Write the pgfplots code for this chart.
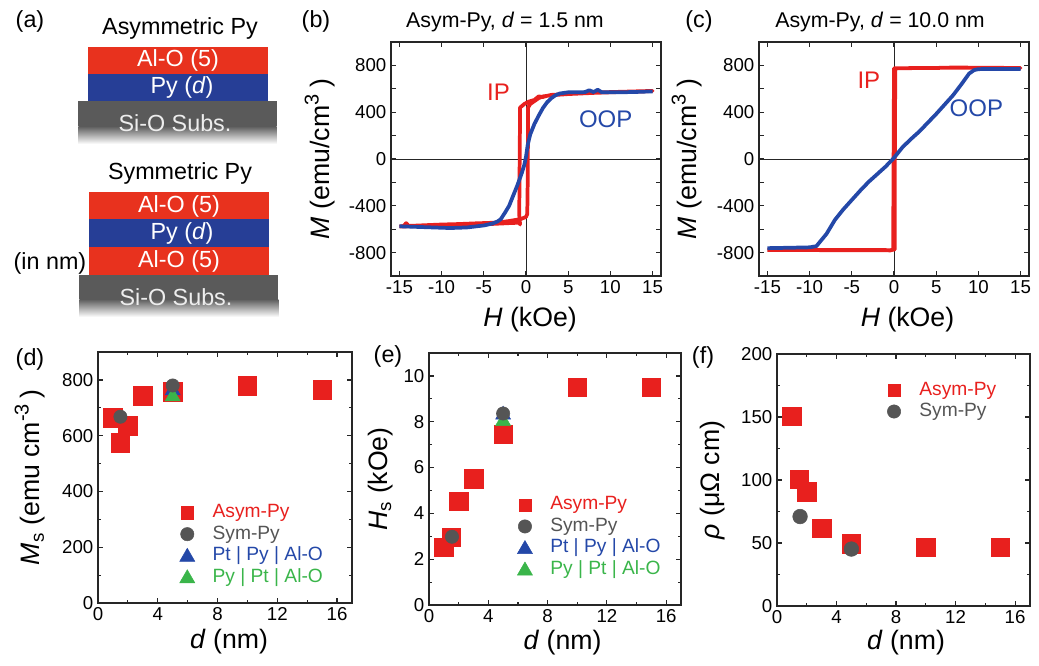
\documentclass[border=0pt]{standalone}
\usepackage{pgfplots}
\pgfplotsset{compat=1.18}
\usepackage{fontspec}
\setmainfont{Liberation Sans}
\definecolor{cred}{HTML}{E8201E}
\definecolor{cblue}{HTML}{2448A8}
\definecolor{cgray}{HTML}{555555}
\definecolor{cgreen}{HTML}{3AB54A}
\definecolor{lred}{HTML}{E8321E}
\definecolor{lblue}{HTML}{263E96}
\definecolor{subs}{HTML}{5A5A5A}
\newcommand{\fs}[1]{\fontsize{#1}{#1}\selectfont}
\newcommand{\supr}[1]{\raisebox{0.42em}{\fs{15}#1}}
\pgfplotsset{
  every axis/.append style={
    scale only axis,
    anchor=south west,
    axis line style={line width=1.1pt, black!85},
    tick align=inside,
    tick style={line width=0.9pt, black!85},
    major tick length=3.5pt,
    minor tick length=2pt,
    tick label style={font=\fs{14}},
    label style={font=\fs{20}},
    /pgf/number format/assume math mode=true,
  },
  leg/.style={legend cell align=left,
    legend style={draw=none, fill=none, inner sep=0pt, outer sep=0pt,
      font=\fs{14.4}, /tikz/column sep=12pt, /tikz/row sep=0.6pt,
      nodes={text height=10.5pt, text depth=3pt, inner sep=1pt}, anchor=north west}},
}
\newcommand{\legmark}[4]{\addlegendimage{legend image code/.code={\path[draw=none,fill=none] (-6pt,0) -- (6pt,0); \path[draw=none,fill=none] plot[mark=#2, mark size=#3, mark options={draw=#1, fill=#1}] coordinates {(0pt,#4)};}}}
\begin{document}
\begin{tikzpicture}
\path[use as bounding box] (0,0) rectangle (1039*0.75pt,-665*0.75pt);

% ---------------- panel (a)
\begin{scope}[x=0.75pt,y=-0.75pt]
 \node[font=\fs{17.5}] at (30,21) {(a)};
 \node[font=\fs{17.5}] at (180,28) {Asymmetric Py};
 \fill[lred] (87.7,47.3) rectangle (268.3,74);
 \fill[lblue] (87.7,74) rectangle (268.3,101);
 \fill[subs] (78.3,100.5) rectangle (276.7,126);
 \shade[top color=subs, bottom color=white] (78.3,126) rectangle (276.7,144);
 \node[white,font=\fs{17.5}] at (178,60.5) {Al-O (5)};
 \node[white,font=\fs{17.5}] at (182,87.5) {Py (\textit{d})};
 \node[white!93!black,font=\fs{17.5}] at (175,123) {Si-O Subs.};

 \node[font=\fs{17.5}] at (180,173) {Symmetric Py};
 \fill[lred] (89.3,192.3) rectangle (269,219);
 \fill[lblue] (89.3,219) rectangle (269,246.7);
 \fill[lred] (89.3,246.7) rectangle (269,275);
 \fill[subs] (79.3,275) rectangle (278.3,299);
 \shade[top color=subs, bottom color=white] (79.3,299) rectangle (278.3,317);
 \node[white,font=\fs{17.5}] at (179,206) {Al-O (5)};
 \node[white,font=\fs{17.5}] at (182,233) {Py (\textit{d})};
 \node[white,font=\fs{17.5}] at (179,261) {Al-O (5)};
 \node[white!93!black,font=\fs{17.5}] at (176,297) {Si-O Subs.};
 \node[font=\fs{17.5}] at (50,263) {(in nm)};

 \node[font=\fs{17.5}] at (316,21) {(b)};
 \node[font=\fs{17.5}] at (699,21) {(c)};
 \node[font=\fs{17.5}] at (30,359) {(d)};
 \node[font=\fs{17.5}] at (388,356) {(e)};
 \node[font=\fs{17.5}] at (703,357) {(f)};
 \node[font=\fs{16}] at (505,22) {Asym-Py, \textit{d} = 1.5 nm};
 \node[font=\fs{16}] at (880,22) {Asym-Py, \textit{d} = 10.0 nm};
\end{scope}

% ---------------- panel (b)
\begin{axis}[at={(391*0.75pt,-276*0.75pt)}, width=270*0.75pt, height=234*0.75pt,
  xmin=-16, xmax=16, ymin=-1000, ymax=1000,
  xtick={-15,-10,...,15}, ytick={-800,-400,...,800}, minor ytick={-600,-200,200,600},
  minor tick length=3.5pt,
  xlabel={\textit{H} (kOe)}, ylabel={\textit{M} (emu/cm\supr{3}\hspace{0.25em})},
  xlabel style={at={(rel axis cs:0.515,-0.188)}, anchor=center},
  ylabel style={at={(rel axis cs:-0.263,0.5)}, anchor=center}]
 \draw[black!85, line width=0.7pt] (axis cs:0,-1000) -- (axis cs:0,1000);
 \draw[black!85, line width=0.7pt] (axis cs:-16,0) -- (axis cs:16,0);
 \addplot[cred, line width=2.8pt, line join=round] coordinates {
 (-15,-578) (-14.5,-572) (-14.2,-548) (-13.9,-572) (-12,-566) (-10,-560) (-8,-556) (-6,-550)
 (-4,-545) (-3,-540) (-2,-530) (-1,-518) (-0.5,-510) (0,-495) (0.15,-470) (0.2,-200) (0.25,440)
 (0.5,470) (1,495) (1.5,520) (2,535) (3,545) (5,555) (8,565) (10,570) (12,575) (14,578) (15,582)
 (14,580) (12,576) (10,572) (8,568) (6,560) (4,552) (3,548) (2.5,540) (2,530) (1.5,535) (1,505)
 (0.3,490) (-0.2,470) (-0.7,440) (-0.75,0) (-0.8,-480) (-0.7,-560) (-0.9,-530) (-1,-545)
 (-2,-548) (-4,-555) (-6,-560) (-9,-565) (-12,-570) (-15,-578)};
 \addplot[cblue, line width=2.8pt, line join=round] coordinates {
 (-15,-575) (-13,-580) (-11,-585) (-9,-590) (-7,-585) (-5,-568) (-4,-552) (-3.4,-535)
 (-3,-515) (-2.5,-460) (-2,-400) (-1.5,-310) (-1,-220) (-0.5,-120) (-0.2,-50) (0,20) (0.2,120)
 (0.5,210) (1,300) (1.5,370) (2,435) (2.5,485) (3,520) (3.5,545) (4,560) (5,570) (6,570)
 (7,572) (7.5,588) (8,572) (8.5,592) (9,570) (11,570) (13,573) (15,578)};
 \node[cred, font=\fs{18}] at (axis cs:-3.25,574) {IP};
 \node[cblue, font=\fs{18}] at (axis cs:9.45,343) {OOP};
\end{axis}

% ---------------- panel (c)
\begin{axis}[at={(759*0.75pt,-276*0.75pt)}, width=270*0.75pt, height=234*0.75pt,
  xmin=-16, xmax=16, ymin=-1000, ymax=1000,
  xtick={-15,-10,...,15}, ytick={-800,-400,...,800}, minor ytick={-600,-200,200,600},
  minor tick length=3.5pt,
  xlabel={\textit{H} (kOe)}, ylabel={\textit{M} (emu/cm\supr{3}\hspace{0.25em})},
  xlabel style={at={(rel axis cs:0.55,-0.188)}, anchor=center},
  ylabel style={at={(rel axis cs:-0.267,0.5)}, anchor=center}]
 \draw[black!85, line width=0.7pt] (axis cs:0,-1000) -- (axis cs:0,1000);
 \draw[black!85, line width=0.7pt] (axis cs:-16,0) -- (axis cs:16,0);
 \addplot[cred, line width=2.8pt, line join=round] coordinates {
 (-15,-778) (-1,-778) (-0.5,-782) (0.1,-772) (0.1,0) (0.15,772) (0.5,776) (5,778) (7,782)
 (15,778) (7,780) (0.3,776) (0,775) (-0.05,0) (-0.1,-775) (-0.5,-780) (-15,-778)};
 \addplot[cblue, line width=2.8pt, line join=round] coordinates {
 (-15,-762) (-12,-758) (-10,-755) (-9.2,-745) (-8,-640) (-7,-520) (-6,-430) (-5,-350) (-4,-270)
 (-3,-195) (-2,-130) (-1,-65) (0,10) (1,100) (2,170) (3,235) (4,310) (5,385) (6,465) (7,545)
 (8,640) (8.9,730) (9.5,760) (10,768) (12,770) (15,770)};
 \node[cred, font=\fs{18}] at (axis cs:-2.98,677) {IP};
 \node[cblue, font=\fs{18}] at (axis cs:9.76,437) {OOP};
\end{axis}

% ---------------- panel (d)
\begin{axis}[at={(98*0.75pt,-603*0.75pt)}, width=254*0.75pt, height=251*0.75pt,
  xmin=0, xmax=17, ymin=0, ymax=900,
  xtick={0,4,...,16}, ytick={0,200,...,800}, minor x tick num=1, minor y tick num=1,
  xlabel={\textit{d} (nm)}, ylabel={\textit{M}\textsubscript{s} (emu cm\supr{-3}\hspace{0.2em})},
  xlabel style={at={(rel axis cs:0.516,-0.154)}, anchor=center},
  ylabel style={at={(rel axis cs:-0.268,0.5)}, anchor=center},
  leg, legend style={at={(rel axis cs:0.320,0.401)}}]
 \addplot[only marks, mark=square*, mark size=7pt, color=cred, forget plot] coordinates {
 (1,665) (1.5,575) (2,635) (3,742) (5,757) (10,780) (15,765)};
 \addplot[only marks, mark=triangle*, mark size=6.5pt, color=cblue, forget plot] coordinates {(5,762)};
 \addplot[only marks, mark=triangle*, mark size=6.5pt, color=cgreen, forget plot] coordinates {(5,740)};
 \addplot[only marks, mark=*, mark size=5pt, color=cgray, forget plot] coordinates {(1.5,668) (5,780)};
 \legmark{cred}{square*}{4.6pt}{0pt}
 \addlegendentry{\textcolor{cred}{Asym-Py}}
 \legmark{cgray}{*}{5pt}{0pt}
 \addlegendentry{\textcolor{cgray}{Sym-Py}}
 \legmark{cblue}{triangle*}{6.5pt}{-1pt}
 \addlegendentry{\textcolor{cblue}{Pt | Py | Al-O}}
 \legmark{cgreen}{triangle*}{6.5pt}{-1pt}
 \addlegendentry{\textcolor{cgreen}{Py | Pt | Al-O}}
\end{axis}

% ---------------- panel (e)
\begin{axis}[at={(429*0.75pt,-605*0.75pt)}, width=252*0.75pt, height=252*0.75pt,
  xmin=0, xmax=17, ymin=0, ymax=11,
  xtick={0,4,...,16}, ytick={0,2,...,10}, minor x tick num=1, minor y tick num=1,
  xlabel={\textit{d} (nm)}, ylabel={\textit{H}\textsubscript{s} (kOe)},
  xlabel style={at={(rel axis cs:0.53,-0.15)}, anchor=center},
  ylabel style={at={(rel axis cs:-0.194,0.5)}, anchor=center},
  leg, legend style={at={(rel axis cs:0.349,0.438)}}]
 \addplot[only marks, mark=square*, mark size=7pt, color=cred, forget plot] coordinates {
 (1,2.52) (1.5,2.95) (2,4.53) (3,5.5) (5,7.45) (10,9.5) (15,9.5)};
 \addplot[only marks, mark=triangle*, mark size=6.5pt, color=cblue, forget plot] coordinates {(5,8.3)};
 \addplot[only marks, mark=triangle*, mark size=6.5pt, color=cgreen, forget plot] coordinates {(5,8.02)};
 \addplot[only marks, mark=*, mark size=5pt, color=cgray, forget plot] coordinates {(1.55,2.98) (5,8.36)};
 \legmark{cred}{square*}{4.6pt}{0pt}
 \addlegendentry{\textcolor{cred}{Asym-Py}}
 \legmark{cgray}{*}{5pt}{0pt}
 \addlegendentry{\textcolor{cgray}{Sym-Py}}
 \legmark{cblue}{triangle*}{6.5pt}{-1pt}
 \addlegendentry{\textcolor{cblue}{Pt | Py | Al-O}}
 \legmark{cgreen}{triangle*}{6.5pt}{-1pt}
 \addlegendentry{\textcolor{cgreen}{Py | Pt | Al-O}}
\end{axis}

% ---------------- panel (f)
\begin{axis}[at={(777*0.75pt,-606*0.75pt)}, width=253*0.75pt, height=252*0.75pt,
  xmin=0, xmax=17, ymin=0, ymax=200,
  xtick={0,4,...,16}, ytick={0,50,...,200}, minor x tick num=1, minor y tick num=1,
  xlabel={\textit{d} (nm)}, ylabel={\textit{ρ} (μΩ cm)},
  xlabel style={at={(rel axis cs:0.51,-0.147)}, anchor=center},
  ylabel style={at={(rel axis cs:-0.253,0.5)}, anchor=center},
  leg, legend style={at={(rel axis cs:0.431,0.898)}}]
 \addplot[only marks, mark=square*, mark size=7pt, color=cred, forget plot] coordinates {
 (1,150.5) (1.5,100.5) (2,90.7) (3,61.6) (5,49.5) (10,46.6) (15,46.6)};
 \addplot[only marks, mark=*, mark size=5.5pt, color=cgray, forget plot] coordinates {(1.55,71) (5,45.2)};
 \legmark{cred}{square*}{4.6pt}{0pt}
 \addlegendentry{\textcolor{cred}{Asym-Py}}
 \legmark{cgray}{*}{5pt}{0pt}
 \addlegendentry{\textcolor{cgray}{Sym-Py}}
\end{axis}
\end{tikzpicture}
\end{document}
